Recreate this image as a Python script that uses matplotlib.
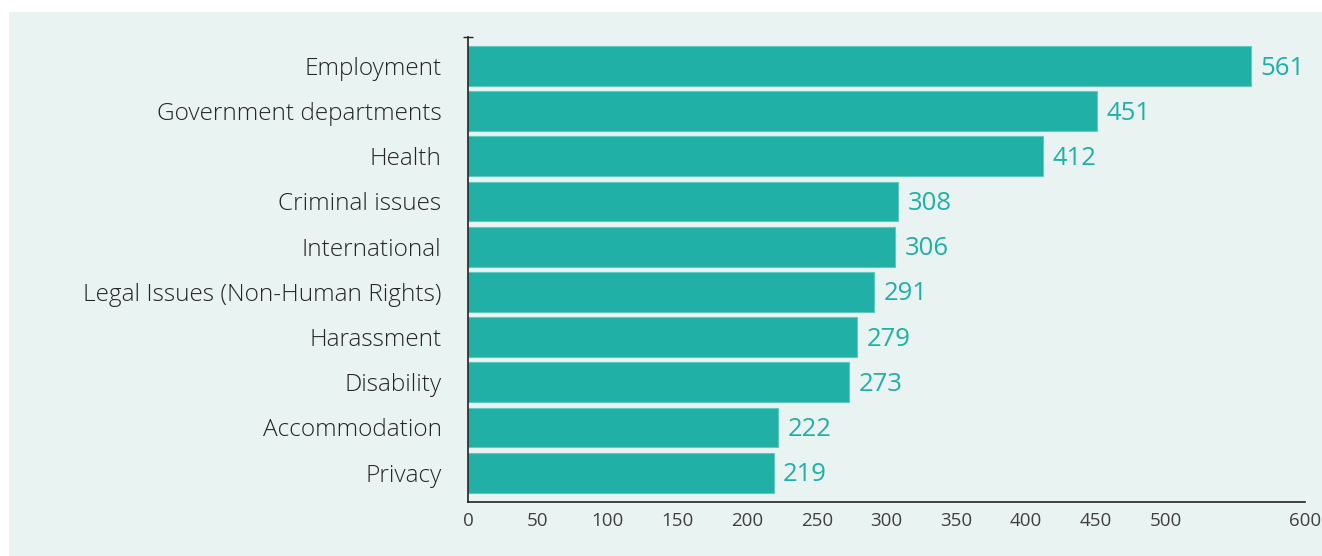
import matplotlib
matplotlib.use("Agg")
import matplotlib.pyplot as plt
from matplotlib.patches import Rectangle
import numpy as np

# Complaint categories and counts
categories = [
    "Employment",
    "Government departments",
    "Health",
    "Criminal issues",
    "International",
    "Legal Issues (Non-Human Rights)",
    "Harassment",
    "Disability",
    "Accommodation",
    "Privacy",
]
counts = [561, 451, 412, 308, 306, 291, 279, 273, 222, 219]
x_ticks = [0, 50, 100, 150, 200, 250, 300, 350, 400, 450, 500, 600]

BAR = "#20b0a5"
BAR_EDGE = "#62c9bf"
PANEL = "#e9f3f1"
TEXT = "#262626"

plt.rcParams["font.family"] = ["Open Sans", "DejaVu Sans"]

W, H = 1322, 556
fig = plt.figure(figsize=(W / 100, H / 100), dpi=100)
fig.patch.set_facecolor("white")

# Tinted panel behind the chart
fig.patches.append(Rectangle((9 / W, 0), 1 - 9 / W, 1 - 12 / H,
                             transform=fig.transFigure, facecolor=PANEL,
                             edgecolor="none", zorder=-10))

left, right, top, bottom = 468, 1305, 37, 502
ax = fig.add_axes([left / W, 1 - bottom / H, (right - left) / W, (bottom - top) / H])
ax.set_zorder(5)
ax.set_facecolor("none")

y = np.arange(len(categories))
ax.barh(y, counts, height=0.88, color=BAR, edgecolor=BAR_EDGE, linewidth=0.8, zorder=2)

for yi, v in zip(y, counts):
    ax.annotate(str(v), xy=(v, yi), xytext=(7, -1.5), textcoords="offset points",
                ha="left", va="center", fontsize=18.5, color=BAR)

ax.set_xlim(0, 600)
ax.set_ylim(9.65, -0.64)

ax.set_yticks(y)
ax.set_yticklabels(categories, fontsize=17.6, color=TEXT, fontweight=300)
ax.tick_params(axis="y", which="major", length=0, pad=19)

ax.set_xticks(x_ticks)
ax.set_xticklabels([str(t) for t in x_ticks], fontsize=13.5, color="#404040")
ax.tick_params(axis="x", which="major", length=0, pad=7)

# Small end caps on the axis lines
ax.set_xticks([0, 600], minor=True)
ax.tick_params(axis="x", which="minor", direction="inout", length=7, width=1, color="#222222")
ax.set_yticks([-0.64], minor=True)
ax.tick_params(axis="y", which="minor", direction="inout", length=7, width=1, color="#222222")

for s in ("top", "right"):
    ax.spines[s].set_visible(False)
for s in ("left", "bottom"):
    ax.spines[s].set_color("#222222")
    ax.spines[s].set_linewidth(1.2)

fig.savefig("out.png", dpi=100)
